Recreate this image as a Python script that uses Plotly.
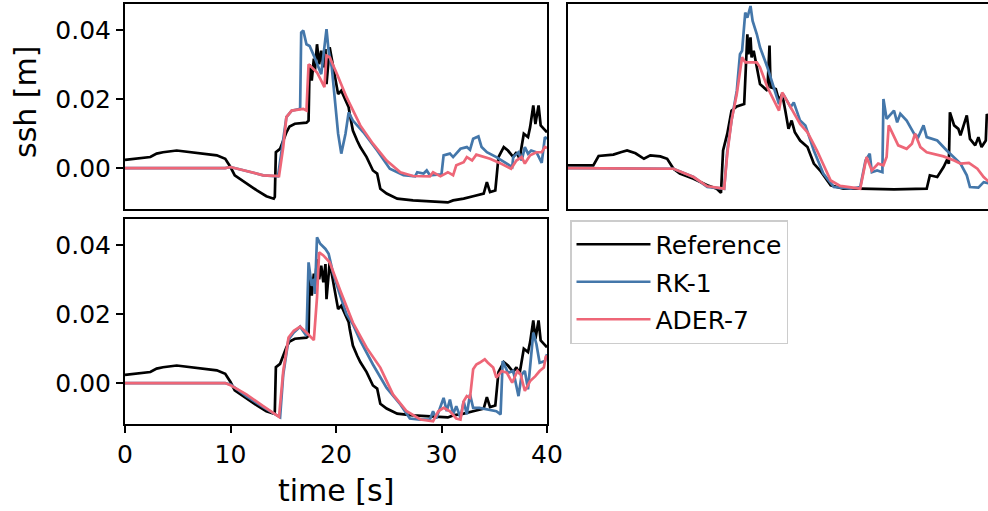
import plotly.graph_objects as go

# ---------------- data ----------------
# Reference gauge (same in top-left and bottom-left panels)
ref_a_t = [0, 2.4, 3.0, 3.6, 4.9, 5.8, 7.4, 8.7, 9.5, 10.0, 10.4, 11.5, 12.5, 13.4, 14.1, 14.2, 14.3, 14.7,
           15.0, 15.3, 15.6, 16.1, 17.2, 17.4, 17.5, 17.7, 17.9, 18.0, 18.2, 18.4, 18.6, 18.8, 19.0, 19.1,
           19.4, 19.6, 19.7, 20.0, 20.2, 20.5, 20.9, 21.2, 21.3, 21.6, 22.0, 22.3, 22.9, 23.5, 23.9, 24.2,
           24.8, 25.8, 27.3, 29.2, 30.6, 31.1, 32.1, 33.0, 34.0, 34.3, 34.6, 35.1, 35.4, 35.9, 36.3, 36.8,
           37.1, 37.4, 37.8, 38.2, 38.4, 38.7, 38.9, 39.2, 39.4, 39.7, 40.0]
ref_a_v = [0.0024, 0.0032, 0.0042, 0.0046, 0.0051, 0.0048, 0.0042, 0.0037, 0.0027, 0.0003, -0.0021, -0.0045,
           -0.0065, -0.0082, -0.0089, -0.0084, 0.0046, 0.0056, 0.0080, 0.0104, 0.0121, 0.0129, 0.0132, 0.0138,
           0.0302, 0.0254, 0.0318, 0.0283, 0.0360, 0.0302, 0.0341, 0.0293, 0.0346, 0.0244, 0.0351, 0.0317,
           0.0293, 0.0249, 0.0215, 0.0225, 0.0196, 0.0177, 0.0157, 0.0109, 0.0080, 0.0061, 0.0032, -0.0007,
           -0.0016, -0.0060, -0.0074, -0.0089, -0.0094, -0.0097, -0.0100, -0.0094, -0.0089, -0.0082, -0.0074,
           -0.0041, -0.0070, -0.0065, 0.0032, 0.0061, 0.0051, 0.0032, 0.0046, 0.0027, 0.0100, 0.0090, 0.0119,
           0.0182, 0.0128, 0.0182, 0.0124, 0.0114, 0.0104]

rk1_a_t = [0, 9.5, 10.0, 11.5, 13.1, 14.5, 14.9, 15.3, 15.8, 16.6, 16.7, 16.9, 17.2, 17.5, 17.9, 18.2, 18.6,
           19.1, 19.3, 19.6, 19.9, 20.2, 20.5, 20.9, 21.2, 21.6, 22.6, 23.9, 25.1, 26.4, 27.5, 27.7, 28.3,
           28.6, 28.9, 30.0, 30.2, 30.8, 31.1, 31.8, 32.4, 32.7, 33.0, 33.5, 33.8, 34.3, 35.2, 36.2, 36.7,
           36.8, 37.3, 37.6, 37.9, 38.2, 38.5, 39.0, 39.5, 39.8, 40.0]
rk1_a_v = [0, 0, 0.0003, -0.0009, -0.0021, -0.0024, 0.0061, 0.0148, 0.0167, 0.0172, 0.0394, 0.0400, 0.0360,
           0.0355, 0.0327, 0.0302, 0.0273, 0.0404, 0.0341, 0.0293, 0.0196, 0.0100, 0.0042, 0.0100, 0.0162,
           0.0138, 0.0104, 0.0051, -0.0002, -0.0021, -0.0024, -0.0012, -0.0016, -0.0007, -0.0021, -0.0018,
           0.0037, 0.0042, 0.0032, 0.0056, 0.0061, 0.0053, 0.0085, 0.0092, 0.0061, 0.0046, 0.0032, 0.0013,
           0.0003, 0.0032, 0.0046, 0.0022, 0.0061, 0.0042, 0.0051, 0.0046, 0.0015, 0.0090, 0.0085]

ader_a_t = [0, 9.5, 10.0, 11.5, 13.1, 14.6, 15.0, 15.3, 15.8, 16.9, 17.2, 17.4, 17.7, 18.2, 18.6, 18.9, 19.1,
            19.4, 20.1, 21.0, 22.3, 23.5, 24.8, 26.1, 27.3, 28.9, 29.2, 29.9, 30.6, 31.1, 31.4, 32.1, 32.4,
            32.9, 33.3, 34.0, 34.6, 35.5, 36.6, 37.1, 37.6, 37.9, 38.4, 39.0, 39.5, 39.8, 40.0]
ader_a_v = [0, 0, 0.0003, -0.0009, -0.0021, -0.0023, 0.0061, 0.0148, 0.0167, 0.0172, 0.0167, 0.0302, 0.0293,
            0.0278, 0.0254, 0.0235, 0.0327, 0.0322, 0.0273, 0.0206, 0.0124, 0.0071, 0.0022, -0.0012, -0.0023,
            -0.0024, -0.0012, -0.0024, -0.0012, -0.0021, 0.0008, 0.0017, 0.0032, 0.0022, 0.0039, 0.0032,
            0.0027, 0.0015, -0.0002, 0.0022, 0.0032, 0.0013, 0.0037, 0.0046, 0.0046, 0.0061, 0.0058]

# second gauge (top-right panel)
ref_b_t = [0, 2.4, 2.9, 4.3, 5.0, 5.6, 6.4, 7.2, 7.8, 8.75, 9.4, 10.0, 10.6, 11.9, 13.2, 14.1, 14.5, 14.7,
           15.1, 15.5, 16.0, 16.7, 16.8, 17.0, 17.1, 17.3, 17.4, 17.6, 17.9, 18.2, 18.9, 19.1, 19.2, 19.7,
           20.0, 20.3, 20.6, 20.9, 21.2, 21.5, 22.0, 22.7, 23.3, 23.9, 24.9, 26.1, 27.7, 30.9, 34.0, 34.3,
           35.0, 35.6, 35.9, 36.1, 36.2, 36.6, 37.0, 37.2, 37.8, 38.1, 38.6, 38.9, 39.2, 39.6, 39.7, 40.0]
ref_b_v = [0.0008, 0.0008, 0.0035, 0.0039, 0.0046, 0.0051, 0.0043, 0.0027, 0.0037, 0.0034, 0.0027, -0.0002,
           -0.0016, -0.0031, -0.0050, -0.0060, -0.0072, 0.0051, 0.0100, 0.0167, 0.0179, 0.0186, 0.0254,
           0.0389, 0.0331, 0.0380, 0.0322, 0.0341, 0.0293, 0.0244, 0.0225, 0.0356, 0.0235, 0.0230, 0.0196,
           0.0215, 0.0167, 0.0114, 0.0138, 0.0104, 0.0080, 0.0061, 0.0013, -0.0007, -0.0050, -0.0060,
           -0.0060, -0.0062, -0.0060, -0.0021, -0.0026, 0.0003, 0.0022, 0.0013, 0.0162, 0.0124, 0.0114,
           0.0095, 0.0153, 0.0085, 0.0066, 0.0090, 0.0061, 0.0080, 0.0157, 0.0140]

rk1_b_t = [0, 9.5, 10.0, 11.9, 13.2, 14.8, 15.1, 15.5, 16.0, 16.3, 16.5, 16.8, 17.0, 17.3, 17.5, 17.9, 18.2,
           18.9, 19.5, 20.0, 20.4, 21.1, 21.4, 22.0, 22.5, 23.3, 24.2, 25.2, 26.8, 27.7, 28.2, 28.6, 28.8,
           29.3, 29.8, 29.9, 30.2, 30.9, 31.2, 31.5, 32.1, 32.8, 33.2, 33.7, 34.0, 35.0, 35.9, 36.5, 37.2,
           37.8, 38.1, 38.9, 39.4, 40.0]
rk1_b_v = [0, 0, -0.0002, -0.0026, -0.0055, -0.0060, 0.0051, 0.0138, 0.0225, 0.0331, 0.0341, 0.0452, 0.0437,
           0.0471, 0.0428, 0.0389, 0.0351, 0.0293, 0.0235, 0.0186, 0.0215, 0.0177, 0.0191, 0.0138, 0.0124,
           0.0051, -0.0016, -0.0055, -0.0060, -0.0055, 0.0022, 0.0042, -0.0012, -0.0007, -0.0012, 0.0201,
           0.0143, 0.0167, 0.0133, 0.0158, 0.0138, 0.0100, 0.0090, 0.0124, 0.0090, 0.0080, 0.0051, 0.0032,
           0.0013, -0.0021, -0.0055, -0.0057, -0.0041, -0.0045]

ader_b_t = [0, 9.5, 10.0, 11.9, 13.2, 14.8, 15.1, 15.5, 16.0, 16.5, 16.8, 17.9, 18.2, 18.9, 19.5, 20.0, 20.3,
            21.1, 22.0, 22.7, 23.6, 24.9, 25.8, 27.7, 28.0, 28.3, 28.8, 29.4, 29.9, 30.2, 30.4, 30.9, 31.3,
            32.1, 32.6, 32.9, 33.4, 34.0, 35.6, 36.6, 37.2, 38.0, 38.8, 39.4, 40.0]
ader_b_v = [0, 0, -0.0002, -0.0026, -0.0053, -0.0060, 0.0042, 0.0138, 0.0215, 0.0322, 0.0307, 0.0307,
            0.0293, 0.0235, 0.0196, 0.0167, 0.0220, 0.0177, 0.0128, 0.0104, 0.0051, -0.0036, -0.0052,
            -0.0060, -0.0016, 0.0032, -0.0007, 0.0013, 0.0008, 0.0032, 0.0124, 0.0090, 0.0066, 0.0056,
            0.0071, 0.0100, 0.0061, 0.0046, 0.0034, 0.0022, 0.0013, 0.0015, -0.0002, -0.0026, -0.0043]

# bottom-left panel simulations (same gauge as top-left)
rk1_c_t = [0, 9.5, 10.0, 11.5, 13.1, 14.7, 15.0, 15.5, 16.0, 16.6, 17.2, 17.4, 17.7, 17.9, 18.0, 18.2, 18.5,
           19.0, 19.3, 19.7, 20.4, 21.0, 21.6, 22.3, 23.5, 24.8, 26.1, 27.0, 28.0, 28.9, 29.2, 29.5, 30.2,
           30.5, 30.8, 31.1, 31.4, 31.8, 32.1, 32.4, 32.7, 33.0, 33.6, 34.3, 35.2, 35.6, 35.8, 36.3, 36.8,
           37.3, 37.6, 37.9, 38.2, 38.7, 39.0, 39.3, 39.8, 40.0]
rk1_c_v = [0, 0, -0.0004, -0.0038, -0.0070, -0.0099, 0.0025, 0.0127, 0.0147, 0.0164, 0.0137, 0.0351, 0.0283,
           0.0303, 0.0259, 0.0424, 0.0405, 0.0390, 0.0376, 0.0322, 0.0254, 0.0200, 0.0171, 0.0123, 0.0054,
           -0.0014, -0.0062, -0.0103, -0.0106, -0.0106, -0.0082, -0.0103, -0.0043, -0.0082, -0.0048, -0.0091,
           -0.0067, -0.0101, -0.0053, -0.0091, -0.0033, -0.0072, -0.0072, -0.0077, -0.0082, -0.0091, 0.0064,
           0.0030, 0.0035, -0.0038, 0.0025, 0.0035, -0.0018, 0.0147, 0.0113, 0.0059, 0.0064, 0.0084]

ader_c_t = [0, 9.5, 10.0, 11.5, 13.1, 14.6, 15.0, 15.5, 16.0, 16.6, 17.2, 17.9, 18.2, 18.4, 18.8, 19.4, 20.4,
            21.6, 22.9, 24.2, 25.4, 26.7, 28.0, 29.2, 29.7, 30.2, 30.8, 31.4, 31.8, 32.1, 32.4, 32.7, 33.0,
            33.3, 33.6, 34.1, 34.4, 34.9, 35.2, 35.7, 36.2, 36.7, 37.2, 37.5, 37.9, 38.4, 38.9, 39.3, 39.7,
            39.9, 40.0]
ader_c_v = [0, 0, -0.0006, -0.0033, -0.0067, -0.0098, 0.0035, 0.0132, 0.0152, 0.0164, 0.0147, 0.0125, 0.0249,
            0.0380, 0.0371, 0.0351, 0.0269, 0.0176, 0.0103, 0.0045, -0.0033, -0.0082, -0.0106, -0.0111,
            -0.0082, -0.0072, -0.0082, -0.0103, -0.0106, -0.0053, -0.0038, -0.0043, 0.0040, 0.0054, 0.0059,
            0.0069, 0.0059, 0.0045, 0.0016, 0.0035, 0.0030, 0.0001, 0.0035, 0.0025, -0.0023, 0.0006, 0.0020,
            0.0035, 0.0045, 0.0079, 0.0075]

series_names = ["Reference", "RK-1", "ADER-7"]
series_colors = ["#000000", "#4477AA", "#EE6677"]
y_ticks = [0.0, 0.02, 0.04]
x_ticks = [0, 10, 20, 30, 40]

# ---------------- figure ----------------
W, H = 988, 511
FONT = "DejaVu Sans"
fig = go.Figure()

panels = [
    ("x", "y", [(ref_a_t, ref_a_v), (rk1_a_t, rk1_a_v), (ader_a_t, ader_a_v)], True),
    ("x2", "y2", [(ref_b_t, ref_b_v), (rk1_b_t, rk1_b_v), (ader_b_t, ader_b_v)], False),
    ("x3", "y3", [(ref_a_t, ref_a_v), (rk1_c_t, rk1_c_v), (ader_c_t, ader_c_v)], False),
]
for xa, ya, sets, show in panels:
    for (tt, vv), name, col in zip(sets, series_names, series_colors):
        fig.add_trace(go.Scatter(x=tt, y=vv, mode="lines", name=name, xaxis=xa, yaxis=ya,
                                 legendgroup=name,
                                 line=dict(color=col, width=2.7), showlegend=show))

def px_x(p):
    return p / W

def px_y(p):
    return 1 - p / H

yr = [-0.0119, 0.0477]
scale = 10.55  # px per second

common_x = dict(showline=True, linecolor="black", linewidth=2, mirror=True, showgrid=False,
                zeroline=False, ticks="outside", ticklen=7, tickwidth=1.8, tickcolor="black",
                tickvals=x_ticks, automargin=False,
                tickfont=dict(family=FONT, size=25, color="black"))
common_y = dict(showline=True, linecolor="black", linewidth=2, mirror=True, showgrid=False,
                zeroline=False, ticks="outside", ticklen=7, tickwidth=1.8, tickcolor="black",
                tickvals=y_ticks, tickformat=".2f", range=yr, automargin=False,
                tickfont=dict(family=FONT, size=25, color="black"))

right_w = W - 568
fig.update_layout(
    width=W, height=H, margin=dict(l=0, r=0, t=0, b=0, pad=0, autoexpand=False),
    paper_bgcolor="white", plot_bgcolor="white",
    xaxis=dict(common_x, domain=[px_x(125), px_x(547)], range=[0, 40], anchor="y",
               showticklabels=False, ticks=""),
    yaxis=dict(common_y, domain=[px_y(209), px_y(4)], anchor="x"),
    xaxis2=dict(common_x, domain=[px_x(568), 1.0], range=[0, right_w / scale], anchor="y2",
                showticklabels=False, ticks=""),
    yaxis2=dict(common_y, domain=[px_y(209), px_y(4)], anchor="x2", showticklabels=False,
                ticks="", mirror=False),
    xaxis3=dict(common_x, domain=[px_x(125), px_x(547)], range=[0, 40], anchor="y3"),
    yaxis3=dict(common_y, domain=[px_y(424), px_y(219)], anchor="x3"),
    legend=dict(x=px_x(570), y=px_y(220), xanchor="left", yanchor="top",
                bgcolor="white", bordercolor="#cccccc", borderwidth=1.5,
                font=dict(family=FONT, size=25, color="black"), itemwidth=74,
                tracegroupgap=2),
    annotations=[
        dict(text="ssh [m]", x=px_x(25), y=px_y(102), xref="paper", yref="paper",
             xanchor="center", yanchor="middle",
             showarrow=False, textangle=-90, font=dict(family=FONT, size=30, color="black")),
        dict(text="time [s]", x=px_x(336), y=px_y(490), xref="paper", yref="paper",
             xanchor="center", yanchor="middle",
             showarrow=False, font=dict(family=FONT, size=30, color="black")),
    ],
)

fig.write_html("out.html")
